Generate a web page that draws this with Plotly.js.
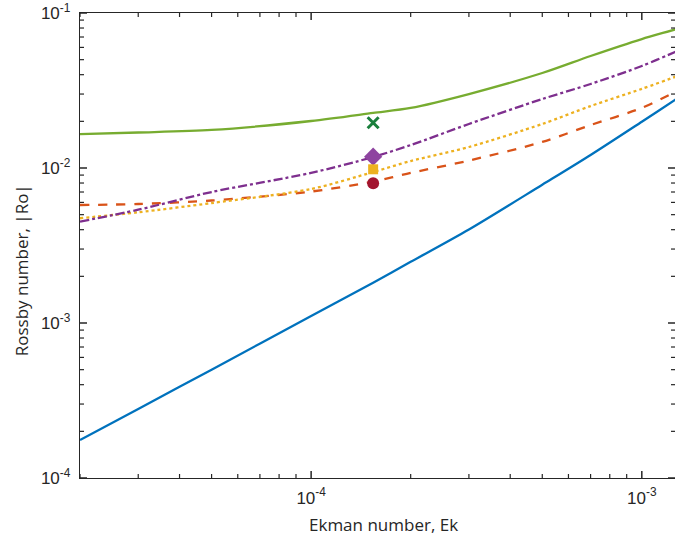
<!DOCTYPE html>
<html><head><meta charset="utf-8">
<script src="https://cdn.plot.ly/plotly-3.0.1.min.js"></script>
<style>html,body{margin:0;padding:0;background:#fff;overflow:hidden}#chart{width:675px;height:537px}</style>
</head><body><div id="chart"></div>
<script>
const ek = [2e-5, 3e-5, 5e-5, 1e-4, 1.54e-4, 2e-4, 3e-4, 5e-4, 7e-4, 1e-3, 1.26e-3, 1.29e-3];
const roBlue   = [1.76e-4, 2.79e-4, 5.0e-4, 1.11e-3, 1.82e-3, 2.48e-3, 4.01e-3, 7.8e-3, 0.01214, 0.0199, 0.0275, 0.0285];
const roOrange = [0.00577, 0.00586, 0.00617, 0.00705, 0.00817, 0.0093, 0.01117, 0.01472, 0.01893, 0.0244, 0.0309, 0.0316];
const roYellow = [0.00474, 0.00518, 0.00594, 0.00732, 0.00942, 0.01109, 0.01366, 0.01923, 0.0251, 0.0324, 0.0387, 0.0395];
const roPurple = [0.00451, 0.00538, 0.0070, 0.0093, 0.01178, 0.01406, 0.01923, 0.02786, 0.03483, 0.0455, 0.0560, 0.0572];
const roGreen  = [0.01655, 0.01695, 0.0176, 0.0201, 0.02265, 0.0244, 0.0300, 0.0410, 0.0528, 0.0679, 0.0783, 0.0797];
const ptEk = [1.54e-4];
const ptX = [0.0196], ptDiamond = [0.01183], ptSquare = [0.00981], ptCircle = [0.00797];
const yTickVals = [1e-4, 1e-3, 1e-2, 1e-1];
const yTickText = ['10<sup>-4</sup>', '10<sup>-3</sup>', '10<sup>-2</sup>', '10<sup>-1</sup>'];
const xTickVals = [1e-4, 1e-3];
const xTickText = ['10<sup>-4</sup>', '10<sup>-3</sup>'];
const xMinorVals = [2e-5, 3e-5, 4e-5, 5e-5, 6e-5, 7e-5, 8e-5, 9e-5, 2e-4, 3e-4, 4e-4, 5e-4, 6e-4, 7e-4, 8e-4, 9e-4];
const yMinorVals = [2e-4, 3e-4, 4e-4, 5e-4, 6e-4, 7e-4, 8e-4, 9e-4, 2e-3, 3e-3, 4e-3, 5e-3, 6e-3, 7e-3, 8e-3, 9e-3, 2e-2, 3e-2, 4e-2, 5e-2, 6e-2, 7e-2, 8e-2, 9e-2];
const xTitle = 'Ekman number, Ek';
const yTitle = 'Rossby number, |Ro|';

const FONT = 'Liberation Sans, Arial, sans-serif';
const TFONT = 'Open Sans, sans-serif';
const AX = '#262626';
const XR = [Math.log10(2e-5), Math.log10(1.26e-3)];
const YR = [-4, -1];
const line = (y, color, dash) => ({x: ek, y: y, mode: 'lines', line: {color: color, width: 2.3, dash: dash, shape: 'spline', smoothing: 0.8}, hoverinfo: 'skip'});
const mk = (y, color, symbol, size) => ({x: ptEk, y: y, mode: 'markers', marker: {color: color, symbol: symbol, size: size, line: {width: 0}}});
const data = [
  line(roBlue, '#0072BD', 'solid'),
  line(roOrange, '#D95319', 'dash'),
  line(roYellow, '#EDB120', 'dot'),
  line(roPurple, '#7E2F8E', 'dashdot'),
  line(roGreen, '#77AC30', 'solid'),
  {x: ptEk, y: ptX, mode: 'markers', marker: {color: '#1A7F3C', symbol: 'x-thin', size: 11, line: {width: 3, color: '#1A7F3C'}}},
  mk(ptDiamond, '#8E44A0', 'diamond', 14),
  mk(ptSquare, '#EDB120', 'square', 10),
  mk(ptCircle, '#A2142F', 'circle', 12)
];

// tick marks drawn as pixel-sized shapes on all four sides
const shapes = [];
function tick(w) { return {type: 'line', layer: 'above', line: {color: AX, width: w}}; }
function xTicks(vals, len, w) {
  vals.forEach(v => {
    shapes.push(Object.assign(tick(w), {xref: 'x', yref: 'paper', x0: v, x1: v, ysizemode: 'pixel', yanchor: 0, y0: 0, y1: len}));
    shapes.push(Object.assign(tick(w), {xref: 'x', yref: 'paper', x0: v, x1: v, ysizemode: 'pixel', yanchor: 1, y0: 0, y1: -len}));
  });
}
function yTicks(vals, len, w) {
  vals.forEach(v => {
    shapes.push(Object.assign(tick(w), {yref: 'y', xref: 'paper', y0: v, y1: v, xsizemode: 'pixel', xanchor: 0, x0: 0, x1: len}));
    shapes.push(Object.assign(tick(w), {yref: 'y', xref: 'paper', y0: v, y1: v, xsizemode: 'pixel', xanchor: 1, x0: 0, x1: -len}));
  });
}
xTicks(xTickVals, 7, 1.5); xTicks(xMinorVals, 4, 1.2);
yTicks(yTickVals, 7, 1.5); yTicks(yMinorVals, 4, 1.2);

const axisCommon = {
  type: 'log', showgrid: false, zeroline: false, showline: true, linecolor: AX, linewidth: 1.2,
  ticks: '', tickfont: {family: FONT, size: 17, color: AX}
};
const layout = {
  width: 675, height: 537, showlegend: false,
  margin: {l: 80, r: 0, t: 13, b: 59},
  paper_bgcolor: '#fff', plot_bgcolor: '#fff',
  xaxis: Object.assign({}, axisCommon, {mirror: true, range: XR, tickmode: 'array', tickvals: xTickVals, ticktext: xTickText, ticklabelstandoff: 4}),
  yaxis: Object.assign({}, axisCommon, {mirror: false, range: YR, tickmode: 'array', tickvals: yTickVals, ticktext: yTickText, ticklabelstandoff: 5}),
  shapes: shapes,
  annotations: [
    {text: xTitle, xref: 'paper', yref: 'paper', x: 0.51, y: -0.101, xanchor: 'center', yanchor: 'middle', showarrow: false,
     font: {family: TFONT, size: 17, color: AX}},
    {text: yTitle, xref: 'paper', yref: 'paper', x: -0.099, y: 0.447, xanchor: 'center', yanchor: 'middle', textangle: -90, showarrow: false,
     font: {family: TFONT, size: 17, color: AX}}
  ]
};
Plotly.newPlot('chart', data, layout, {displayModeBar: false, staticPlot: true});
</script></body></html>
